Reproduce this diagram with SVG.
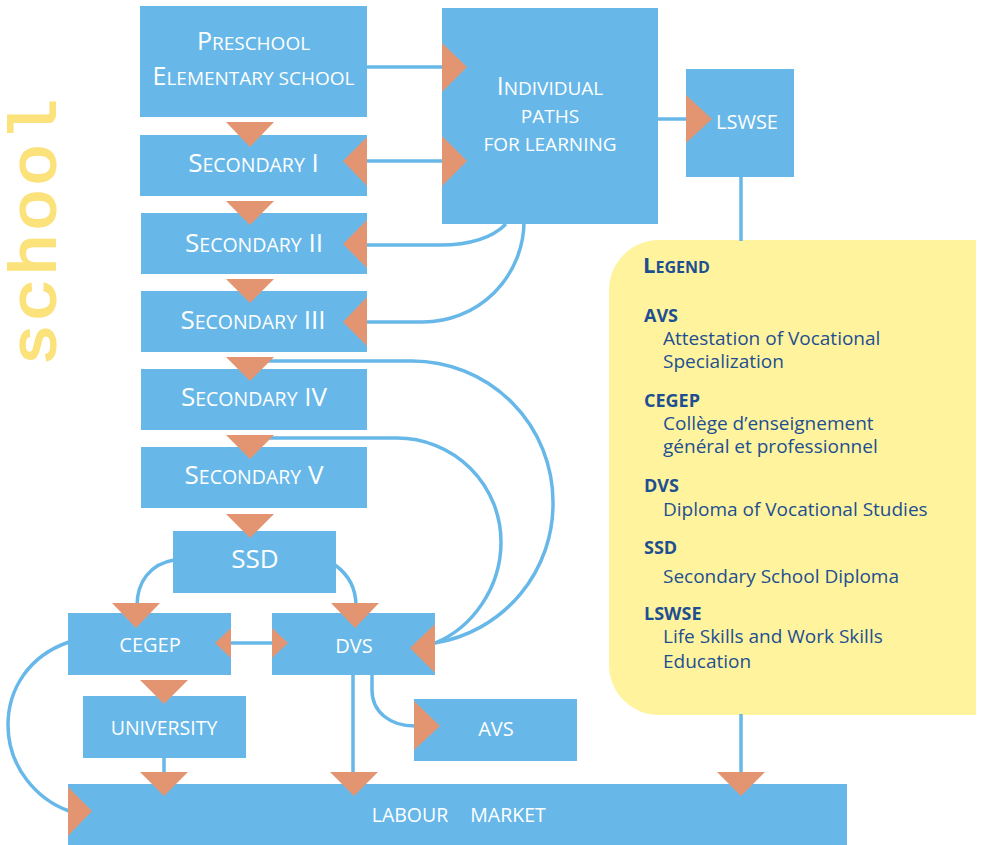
<svg xmlns="http://www.w3.org/2000/svg" width="981" height="845" viewBox="0 0 981 845">
<style>
.box{fill:#67b8e8}
.arr{fill:#e39571}
.ln{fill:none;stroke:#67b8e8;stroke-width:3.5}
.t{font-family:"Open Sans","Noto Sans",sans-serif;fill:#ffffff;text-anchor:middle}
.lg{font-family:"Open Sans","Noto Sans",sans-serif;fill:#1d4f91;font-size:19px}
.lb{font-weight:bold;font-size:18px}
</style>
<rect width="981" height="845" fill="#ffffff"/>
<text transform="translate(55,366) rotate(-90) scale(1.1,1)" font-family="Liberation Mono, monospace" font-size="64" letter-spacing="2.5" fill="#fbe27b" stroke="#fbe27b" stroke-width="2">school</text>

<g id="legend">
<path d="M659 240 H976 V715 H659 A50 50 0 0 1 609 665 V290 A50 50 0 0 1 659 240 Z" fill="#fff39e"/>
<text class="lg" x="643" y="273" font-weight="bold"><tspan font-size="22">L</tspan><tspan font-size="16">EGEND</tspan></text>
<text class="lg lb" x="644" y="322">AVS</text>
<text class="lg" x="663" y="345">Attestation of Vocational</text>
<text class="lg" x="663" y="368">Specialization</text>
<text class="lg lb" x="644" y="407">CEGEP</text>
<text class="lg" x="663" y="430">Collège d’enseignement</text>
<text class="lg" x="663" y="453">général et professionnel</text>
<text class="lg lb" x="644" y="492">DVS</text>
<text class="lg" x="663" y="516">Diploma of Vocational Studies</text>
<text class="lg lb" x="644" y="554">SSD</text>
<text class="lg" x="663" y="583">Secondary School Diploma</text>
<text class="lg lb" x="644" y="620">LSWSE</text>
<text class="lg" x="663" y="643">Life Skills and Work Skills</text>
<text class="lg" x="663" y="668">Education</text>
</g>

<g id="connectors">
<path class="ln" d="M367 67 H445"/>
<path class="ln" d="M367 161 H445"/>
<path class="ln" d="M367 245 H440 C468 245 492 238 506 224"/>
<path class="ln" d="M367 322 H423 A101 101 0 0 0 524 221 V222"/>
<path class="ln" d="M658 119 H688"/>
<path class="ln" d="M741 176 V241"/>
<path class="ln" d="M741 714 V775"/>
<path class="ln" d="M260 361 H412 A141 141 0 0 1 553 502 A141 141 0 0 1 435 643"/>
<path class="ln" d="M260 438 H397 A104 104 0 0 1 501 542 C501 588 472 628 435 643"/>
<path class="ln" d="M174 560 C150 564 137 582 137 606"/>
<path class="ln" d="M335 565 C349 575 356 588 356 606"/>
<path class="ln" d="M230 643 H273"/>
<path class="ln" d="M69 642 C28 656 8 690 8 725 C8 768 38 800 69 811"/>
<path class="ln" d="M353 674 V775"/>
<path class="ln" d="M372 674 V690 C372 712 390 726 415 726"/>
<path class="ln" d="M164 757 V775"/>
</g>

<g id="preschool">
<rect class="box" x="140" y="6" width="227" height="111"/>
<text class="t" x="253.5" y="50"><tspan font-size="25">P</tspan><tspan font-size="19">RESCHOOL</tspan></text>
<text class="t" x="253.5" y="85"><tspan font-size="25">E</tspan><tspan font-size="19">LEMENTARY SCHOOL</tspan></text>
</g>
<g id="individual">
<rect class="box" x="442" y="8" width="216" height="216"/>
<text class="t" x="550" y="95"><tspan font-size="25">I</tspan><tspan font-size="19">NDIVIDUAL</tspan></text>
<text class="t" x="550" y="123" font-size="19">PATHS</text>
<text class="t" x="550" y="151" font-size="19">FOR LEARNING</text>
<polygon class="arr" points="442,43 467,67 442,92"/>
<polygon class="arr" points="442,136 467,161 442,186"/>
</g>
<g id="lswse">
<rect class="box" x="686" y="69" width="108" height="108"/>
<text class="t" x="747" y="129" font-size="20">LSWSE</text>
<polygon class="arr" points="686,95 712,119 686,143"/>
</g>
<g id="sec1">
<rect class="box" x="140" y="135" width="227" height="61"/>
<text class="t" x="253.5" y="172"><tspan font-size="26">S</tspan><tspan font-size="19.5">ECONDARY</tspan><tspan font-size="26"> I</tspan></text>
<polygon class="arr" points="226,122 274,122 250,147"/>
<polygon class="arr" points="367,137 343,161 367,186"/>
</g>
<g id="sec2">
<rect class="box" x="141" y="213" width="226" height="61"/>
<text class="t" x="254" y="252"><tspan font-size="26">S</tspan><tspan font-size="19.5">ECONDARY</tspan><tspan font-size="26"> II</tspan></text>
<polygon class="arr" points="226,201 274,201 250,225"/>
<polygon class="arr" points="367,220 343,244 367,268"/>
</g>
<g id="sec3">
<rect class="box" x="141" y="291" width="226" height="61"/>
<text class="t" x="253" y="329"><tspan font-size="26">S</tspan><tspan font-size="19.5">ECONDARY</tspan><tspan font-size="26"> III</tspan></text>
<polygon class="arr" points="226,279 274,279 250,303"/>
<polygon class="arr" points="367,297 343,322 367,346"/>
</g>
<g id="sec4">
<rect class="box" x="141" y="369" width="226" height="61"/>
<text class="t" x="254" y="406"><tspan font-size="26">S</tspan><tspan font-size="19.5">ECONDARY</tspan><tspan font-size="26"> IV</tspan></text>
<polygon class="arr" points="226,357 274,357 250,381"/>
</g>
<g id="sec5">
<rect class="box" x="141" y="447" width="226" height="61"/>
<text class="t" x="254" y="484"><tspan font-size="26">S</tspan><tspan font-size="19.5">ECONDARY</tspan><tspan font-size="26"> V</tspan></text>
<polygon class="arr" points="226,435 274,435 250,459"/>
</g>
<g id="ssd">
<rect class="box" x="173" y="531" width="163" height="62"/>
<text class="t" x="255" y="568" font-size="26">SSD</text>
<polygon class="arr" points="226,514 274,514 250,538"/>
</g>
<g id="cegep">
<rect class="box" x="68" y="613" width="163" height="62"/>
<text class="t" x="150" y="652" font-size="20">CEGEP</text>
<polygon class="arr" points="112,603 160,603 136,628"/>
<polygon class="arr" points="231,628 215,643 231,658"/>
</g>
<g id="dvs">
<rect class="box" x="272" y="613" width="163" height="62"/>
<text class="t" x="354" y="653" font-size="20">DVS</text>
<polygon class="arr" points="331,603 379,603 355,628"/>
<polygon class="arr" points="272,628 288,643 272,658"/>
<polygon class="arr" points="435,624 410,648 435,673"/>
</g>
<g id="university">
<rect class="box" x="83" y="696" width="163" height="62"/>
<text class="t" x="164" y="735" font-size="19.5">UNIVERSITY</text>
<polygon class="arr" points="140,680 188,680 164,704"/>
</g>
<g id="avs">
<rect class="box" x="414" y="699" width="163" height="62"/>
<text class="t" x="496" y="736" font-size="20">AVS</text>
<polygon class="arr" points="414,701 440,726 414,750"/>
</g>
<g id="labour">
<rect class="box" x="68" y="784" width="779" height="61"/>
<text class="t" x="410" y="822" font-size="19.5">LABOUR</text>
<text class="t" x="508" y="822" font-size="19.5">MARKET</text>
<polygon class="arr" points="140,772 188,772 164,796"/>
<polygon class="arr" points="330,772 378,772 354,796"/>
<polygon class="arr" points="717,772 765,772 741,796"/>
<polygon class="arr" points="68,787 92,811 68,836"/>
</g>
</svg>
